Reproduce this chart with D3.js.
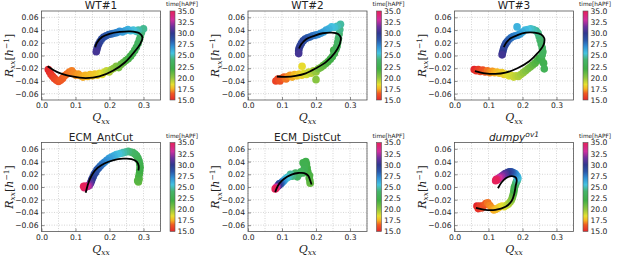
<!DOCTYPE html>
<html>
<head>
<meta charset="utf-8">
<script src="https://cdn.jsdelivr.net/npm/d3@7"></script>
<style>
  body { margin: 0; background: #fff; }
  text { font-family: "DejaVu Sans", sans-serif; fill: #222; }
  .tick text { font-size: 7.6px; }
  .math { font-family: "DejaVu Serif", serif; font-style: italic; }
</style>
</head>
<body>
<svg id="chart" width="617" height="256"></svg>
<script>
// each point: [time hAPF, Qxx, Rxx]
let wt1_points = [[15.0,0.020,-0.022],[15.2,0.024,-0.026],[15.4,0.028,-0.030],[15.6,0.033,-0.033],[15.8,0.038,-0.036],[16.0,0.044,-0.039],[16.2,0.050,-0.041],[16.4,0.056,-0.039],[16.5,0.062,-0.036],[16.6,0.068,-0.032],[16.7,0.075,-0.029],[16.8,0.082,-0.026],[16.9,0.089,-0.024],[17.0,0.095,-0.028],[17.1,0.101,-0.031],[17.2,0.108,-0.029],[17.3,0.115,-0.032],[17.4,0.122,-0.034],[17.5,0.129,-0.031],[17.6,0.136,-0.033],[17.7,0.143,-0.030],[17.8,0.150,-0.032],[17.9,0.157,-0.029],[18.0,0.164,-0.031],[18.2,0.171,-0.028],[18.5,0.178,-0.030],[18.8,0.185,-0.026],[19.1,0.192,-0.024],[19.4,0.199,-0.026],[19.7,0.206,-0.022],[20.0,0.213,-0.020],[20.3,0.220,-0.017],[20.6,0.227,-0.019],[20.9,0.234,-0.014],[21.2,0.241,-0.011],[21.5,0.248,-0.008],[21.8,0.255,-0.005],[22.1,0.262,-0.001],[22.4,0.268,0.003],[22.7,0.274,0.008],[23.0,0.279,0.013],[23.3,0.284,0.019],[23.6,0.288,0.025],[23.9,0.291,0.031],[24.2,0.294,0.036],[24.5,0.300,0.042],[24.8,0.285,0.040],[25.1,0.278,0.038],[25.4,0.270,0.040],[25.7,0.262,0.039],[26.0,0.254,0.041],[26.3,0.246,0.039],[26.6,0.238,0.037],[26.9,0.230,0.038],[27.2,0.222,0.036],[27.5,0.214,0.035],[27.8,0.206,0.034],[28.1,0.198,0.033],[28.4,0.190,0.031],[28.7,0.183,0.029],[29.0,0.177,0.026],[29.3,0.172,0.022],[29.6,0.168,0.018],[29.9,0.165,0.014],[30.2,0.163,0.010],[30.5,0.161,0.006]]
let wt1_fit = [[0.018,-0.017],[0.05,-0.027],[0.09,-0.033],[0.13,-0.0355],[0.17,-0.033],[0.21,-0.024],[0.245,-0.011],[0.272,0.005],[0.29,0.018],[0.297,0.028],[0.288,0.035],[0.26,0.038],[0.23,0.037],[0.2,0.034],[0.178,0.029],[0.163,0.02],[0.158,0.013]]

let wt2_points = [[15.8,0.082,-0.040],[16.0,0.088,-0.037],[16.2,0.094,-0.040],[16.4,0.100,-0.036],[16.6,0.106,-0.034],[16.8,0.112,-0.037],[17.0,0.118,-0.033],[17.2,0.124,-0.031],[17.4,0.130,-0.034],[17.6,0.137,-0.030],[17.8,0.144,-0.032],[18.0,0.151,-0.029],[18.2,0.158,-0.031],[18.4,0.159,-0.017],[18.6,0.165,-0.028],[18.8,0.172,-0.030],[19.0,0.179,-0.026],[19.3,0.186,-0.028],[19.6,0.193,-0.024],[19.9,0.200,-0.026],[20.2,0.200,-0.038],[20.5,0.207,-0.021],[20.8,0.214,-0.019],[21.1,0.221,-0.016],[21.4,0.228,-0.013],[21.7,0.235,-0.010],[22.0,0.242,-0.006],[22.2,0.252,0.008],[22.3,0.248,-0.002],[22.6,0.254,0.003],[22.8,0.260,0.012],[22.9,0.258,0.009],[23.2,0.262,0.015],[23.5,0.264,0.021],[23.8,0.266,0.027],[24.1,0.268,0.034],[24.4,0.270,0.041],[24.7,0.272,0.049],[25.0,0.262,0.046],[25.3,0.254,0.044],[25.6,0.246,0.045],[25.9,0.238,0.042],[26.2,0.230,0.040],[26.5,0.222,0.037],[26.8,0.214,0.035],[27.1,0.206,0.033],[27.4,0.198,0.032],[27.7,0.190,0.031],[28.0,0.182,0.029],[28.3,0.175,0.028],[28.6,0.168,0.026],[28.9,0.162,0.023],[29.2,0.157,0.019],[29.5,0.153,0.015],[29.8,0.150,0.011],[30.1,0.149,0.007],[30.5,0.149,0.003]]
let wt2_fit = [[0.085,-0.033],[0.11,-0.0335],[0.14,-0.032],[0.17,-0.028],[0.2,-0.02],[0.23,-0.01],[0.255,0.004],[0.27,0.018],[0.273,0.028],[0.265,0.034],[0.245,0.036],[0.22,0.035],[0.195,0.031],[0.172,0.026],[0.157,0.018],[0.15,0.011]]

let wt3_points = [[15.0,0.058,-0.022],[15.3,0.064,-0.024],[15.6,0.070,-0.022],[15.9,0.076,-0.025],[16.2,0.083,-0.023],[16.5,0.090,-0.026],[16.8,0.097,-0.024],[17.0,0.104,-0.027],[17.2,0.111,-0.025],[17.4,0.118,-0.027],[17.6,0.125,-0.026],[17.8,0.132,-0.028],[18.0,0.139,-0.027],[18.2,0.146,-0.030],[18.4,0.153,-0.029],[18.6,0.160,-0.032],[18.8,0.167,-0.031],[19.0,0.174,-0.034],[19.2,0.181,-0.032],[19.4,0.188,-0.033],[19.6,0.195,-0.030],[19.9,0.202,-0.027],[20.2,0.209,-0.024],[20.5,0.216,-0.021],[20.8,0.223,-0.018],[21.1,0.230,-0.015],[21.4,0.237,-0.012],[21.7,0.244,-0.008],[22.0,0.250,-0.004],[22.3,0.256,-0.006],[22.6,0.262,-0.012],[22.9,0.264,-0.021],[23.1,0.258,0.001],[23.3,0.260,0.006],[23.5,0.258,0.012],[23.7,0.255,0.018],[23.9,0.252,0.024],[24.1,0.249,0.030],[24.3,0.246,0.035],[24.6,0.240,0.039],[24.9,0.232,0.041],[25.2,0.224,0.042],[25.5,0.216,0.041],[25.8,0.208,0.040],[26.0,0.184,0.045],[26.2,0.200,0.037],[26.5,0.193,0.034],[26.8,0.186,0.032],[27.1,0.179,0.031],[27.4,0.172,0.030],[27.7,0.166,0.028],[28.0,0.160,0.025],[28.3,0.155,0.022],[28.6,0.151,0.019],[28.9,0.148,0.016],[29.2,0.145,0.012],[29.6,0.143,0.008],[30.0,0.141,0.004],[30.4,0.140,0.001]]
let wt3_fit = [[0.06,-0.0245],[0.09,-0.028],[0.12,-0.029],[0.15,-0.027],[0.185,-0.02],[0.22,-0.009],[0.245,0.004],[0.262,0.017],[0.264,0.027],[0.255,0.033],[0.235,0.036],[0.21,0.036],[0.185,0.032],[0.165,0.027],[0.152,0.02],[0.145,0.013]]

let ant_points = [[21.0,0.285,0.008],[21.2,0.287,0.012],[21.4,0.283,0.010],[21.6,0.286,0.016],[21.8,0.288,0.021],[22.0,0.289,0.026],[22.2,0.290,0.031],[22.4,0.289,0.036],[22.6,0.287,0.041],[22.8,0.284,0.045],[23.0,0.280,0.049],[23.3,0.275,0.052],[23.6,0.269,0.054],[23.9,0.262,0.055],[24.2,0.255,0.056],[24.5,0.248,0.055],[24.8,0.241,0.054],[25.1,0.234,0.053],[25.4,0.227,0.052],[25.7,0.220,0.051],[26.0,0.213,0.049],[26.3,0.206,0.047],[26.6,0.199,0.045],[26.9,0.192,0.042],[27.2,0.185,0.039],[27.5,0.179,0.036],[27.8,0.173,0.033],[28.1,0.168,0.030],[28.4,0.163,0.027],[28.7,0.159,0.023],[29.0,0.155,0.020],[29.3,0.152,0.016],[29.6,0.149,0.013],[30.0,0.147,0.010],[30.5,0.145,0.007],[31.0,0.143,0.005],[31.5,0.141,0.003],[32.0,0.139,0.002],[32.5,0.136,0.001],[33.0,0.133,0.001],[33.5,0.130,0.000],[34.0,0.128,0.001],[34.5,0.126,-0.001],[35.0,0.124,0.001]]
let ant_fit = [[0.13,-0.009],[0.136,0.003],[0.143,0.013],[0.152,0.022],[0.165,0.03],[0.185,0.037],[0.21,0.042],[0.24,0.0445],[0.265,0.044],[0.28,0.04],[0.286,0.033],[0.285,0.026]]

let dist_points = [[21.0,0.183,0.006],[21.2,0.182,0.010],[21.4,0.180,0.014],[21.6,0.181,0.018],[21.8,0.176,0.024],[22.0,0.174,0.030],[22.2,0.172,0.036],[22.4,0.170,0.040],[22.5,0.162,0.038],[22.6,0.166,0.034],[22.8,0.165,0.028],[23.0,0.162,0.022],[23.2,0.156,0.024],[23.4,0.150,0.020],[23.6,0.145,0.016],[23.8,0.140,0.022],[24.0,0.135,0.020],[24.3,0.130,0.017],[24.6,0.125,0.020],[24.9,0.120,0.016],[25.2,0.115,0.015],[25.6,0.111,0.013],[26.0,0.107,0.011],[26.5,0.104,0.009],[27.0,0.101,0.008],[27.5,0.098,0.006],[28.0,0.096,0.006],[28.5,0.094,0.004],[29.0,0.092,0.005],[29.5,0.090,0.003],[30.0,0.089,0.002],[31.0,0.087,0.001],[32.0,0.085,0.000],[33.0,0.083,-0.001],[34.0,0.082,-0.002],[35.0,0.080,-0.003]]
let dist_fit = [[0.08,-0.008],[0.088,0.002],[0.1,0.01],[0.115,0.016],[0.13,0.02],[0.148,0.022],[0.165,0.022],[0.177,0.018],[0.183,0.01],[0.187,0.004]]

let dumpy_points = [[15.0,0.066,-0.030],[15.3,0.070,-0.034],[15.6,0.075,-0.030],[15.9,0.080,-0.033],[16.2,0.086,-0.029],[16.5,0.092,-0.026],[16.8,0.098,-0.025],[17.0,0.104,-0.029],[17.2,0.110,-0.033],[17.4,0.116,-0.036],[17.6,0.122,-0.035],[17.8,0.128,-0.033],[18.0,0.134,-0.031],[18.3,0.140,-0.030],[18.6,0.146,-0.031],[18.9,0.152,-0.029],[19.2,0.158,-0.027],[19.6,0.163,-0.024],[20.0,0.167,-0.021],[20.5,0.170,-0.017],[21.0,0.172,-0.013],[21.5,0.174,-0.009],[22.0,0.175,-0.005],[22.5,0.176,-0.001],[23.0,0.178,0.002],[23.5,0.180,0.005],[24.0,0.182,0.008],[24.5,0.184,0.010],[25.0,0.186,0.013],[25.5,0.186,0.015],[26.0,0.184,0.017],[26.5,0.181,0.019],[27.0,0.178,0.021],[27.5,0.174,0.022],[28.0,0.170,0.023],[28.5,0.166,0.024],[29.0,0.162,0.024],[29.5,0.158,0.023],[30.0,0.154,0.022],[30.5,0.150,0.021],[31.0,0.146,0.020],[31.5,0.142,0.018],[32.0,0.138,0.017],[32.5,0.134,0.015],[33.0,0.130,0.014],[33.5,0.127,0.012],[34.0,0.125,0.011],[34.5,0.123,0.012],[35.0,0.121,0.010]]
let dumpy_fit = [[0.063,-0.033],[0.09,-0.036],[0.12,-0.036],[0.15,-0.031],[0.168,-0.022],[0.176,-0.01],[0.18,0.002],[0.183,0.01],[0.18,0.015],[0.168,0.017],[0.152,0.014],[0.138,0.007],[0.128,-0.002]]

let titles = ["WT#1", "WT#2", "WT#3", "ECM_AntCut", "ECM_DistCut", "dumpy"]
let x_ticks = [0.0, 0.1, 0.2, 0.3]
let y_ticks = [-0.06, -0.04, -0.02, 0.00, 0.02, 0.04, 0.06]
let cbar_ticks = [15.0, 17.5, 20.0, 22.5, 25.0, 27.5, 30.0, 32.5, 35.0]

// colormap stops (time -> colour)
let cmap_times = [15, 16.5, 17.5, 18.5, 20, 22, 24, 25.5, 27, 28.5, 30, 31.5, 33, 35]
let cmap_colors = ["#e5262b", "#f05a22", "#f7b321", "#e6e030", "#8fc63f", "#3fae45", "#45b46a", "#45c3e0", "#3091d6", "#2a55a8", "#30388f", "#6e309f", "#cf2f9e", "#e6205a"]

let panels = [
  {points: wt1_points, fit: wt1_fit},
  {points: wt2_points, fit: wt2_fit},
  {points: wt3_points, fit: wt3_fit},
  {points: ant_points, fit: ant_fit},
  {points: dist_points, fit: dist_fit},
  {points: dumpy_points, fit: dumpy_fit}
]

let col_x = [0, 206.5, 413],
    row_y = [0, 131.5],
    box = {left: 41.5, right: 160.5, top: 11, bottom: 100},
    cbar = {left: 170, width: 5};

let svg = d3.select("#chart")
let color = d3.scaleLinear().domain(cmap_times).range(cmap_colors)

let grad = svg.append("defs").append("linearGradient")
  .attr("id", "cmap").attr("x1", 0).attr("x2", 0).attr("y1", 1).attr("y2", 0)
grad.selectAll("stop").data(cmap_times).enter().append("stop")
  .attr("offset", d => (d - 15) / 20)
  .attr("stop-color", d => color(d))

panels.forEach((p, i) => {
  let ox = col_x[i % 3], oy = row_y[Math.floor(i / 3)]
  let x = d3.scaleLinear().domain([0, 0.35]).range([ox + box.left, ox + box.right])
  let y = d3.scaleLinear().domain([-0.07, 0.07]).range([oy + box.bottom, oy + box.top])
  let g = svg.append("g")

  // grid
  g.append("g").selectAll("line").data(d3.range(0, 0.351, 0.05)).enter().append("line")
    .attr("x1", d => x(d)).attr("x2", d => x(d))
    .attr("y1", y.range()[0]).attr("y2", y.range()[1])
    .attr("stroke", "#bbb").attr("stroke-width", 0.6).attr("stroke-dasharray", "1,1.5")
  g.append("g").selectAll("line").data(y_ticks).enter().append("line")
    .attr("y1", d => y(d)).attr("y2", d => y(d))
    .attr("x1", x.range()[0]).attr("x2", x.range()[1])
    .attr("stroke", "#bbb").attr("stroke-width", 0.6).attr("stroke-dasharray", "1,1.5")

  // axes
  let xa = g.append("g").attr("transform", `translate(0,${y.range()[0]})`)
    .call(d3.axisBottom(x).tickValues(x_ticks).tickFormat(d3.format(".1f")).tickSize(-3).tickPadding(3))
  let ya = g.append("g").attr("transform", `translate(${x.range()[0]},0)`)
    .call(d3.axisLeft(y).tickValues(y_ticks).tickFormat(d3.format(".2f")).tickSize(-3).tickPadding(3))
  ;[xa, ya].forEach(a => {
    a.select(".domain").remove()
    a.selectAll(".tick line").attr("stroke", "#444").attr("stroke-width", 0.6)
    a.selectAll(".tick text").attr("fill", "#222")
  })

  // points + fit
  let dots = g.append("g")
  dots.selectAll("circle").data(p.points).enter().append("circle")
    .attr("cx", d => x(d[1])).attr("cy", d => y(d[2])).attr("r", 3.8)
    .attr("fill", d => color(d[0]))
  g.append("path").datum(p.fit)
    .attr("d", d3.line().x(d => x(d[0])).y(d => y(d[1])).curve(d3.curveCatmullRom))
    .attr("fill", "none").attr("stroke", "#000").attr("stroke-width", 1.8)

  g.append("rect")
    .attr("x", x.range()[0]).attr("y", y.range()[1])
    .attr("width", x.range()[1] - x.range()[0]).attr("height", y.range()[0] - y.range()[1])
    .attr("fill", "none").attr("stroke", "#555").attr("stroke-width", 0.8)

  // title
  let cx = (x.range()[0] + x.range()[1]) / 2
  let t = g.append("text").attr("x", cx).attr("y", oy + 9).attr("text-anchor", "middle")
    .style("font-size", "10.5px")
  if (i == 5) {
    t.append("tspan").style("font-style", "italic").text(titles[i])
    t.append("tspan").style("font-style", "italic").style("font-size", "7.5px")
      .attr("dy", -4).text("ov1")
  } else t.text(titles[i])

  // axis labels
  let xl = g.append("text").attr("class", "math").attr("x", cx).attr("y", oy + 121)
    .attr("text-anchor", "middle").style("font-size", "11px")
  xl.append("tspan").text("Q")
  xl.append("tspan").style("font-size", "7.5px").attr("dy", 2.5).text("xx")

  let yl = g.append("text").attr("class", "math")
    .attr("transform", `translate(${ox + 12.5},${oy + 55.5})rotate(-90)`)
    .attr("text-anchor", "middle").style("font-size", "11px")
  yl.append("tspan").text("R")
  yl.append("tspan").style("font-size", "7.5px").attr("dy", 2.5).text("xx")
  yl.append("tspan").style("font-style", "normal").attr("dy", -2.5).text("[")
  yl.append("tspan").text("h")
  yl.append("tspan").style("font-style", "normal").style("font-size", "7.5px").attr("dy", -4).text("−1")
  yl.append("tspan").style("font-style", "normal").attr("dy", 4).text("]")

  // colorbar
  let cb = d3.scaleLinear().domain([15, 35]).range([y.range()[0], y.range()[1]])
  g.append("rect").attr("x", ox + cbar.left).attr("y", y.range()[1])
    .attr("width", cbar.width).attr("height", y.range()[0] - y.range()[1])
    .attr("fill", "url(#cmap)").attr("stroke", "#555").attr("stroke-width", 0.6)
  let ca = g.append("g").attr("transform", `translate(${ox + cbar.left + cbar.width},0)`)
    .call(d3.axisRight(cb).tickValues(cbar_ticks).tickFormat(d3.format(".1f")).tickSize(0).tickPadding(2.5))
  ca.select(".domain").remove()
  g.append("text").attr("x", ox + cbar.left - 4).attr("y", oy + 6)
    .style("font-size", "5.8px").text("time[hAPF]")
})
</script>
</body>
</html>
